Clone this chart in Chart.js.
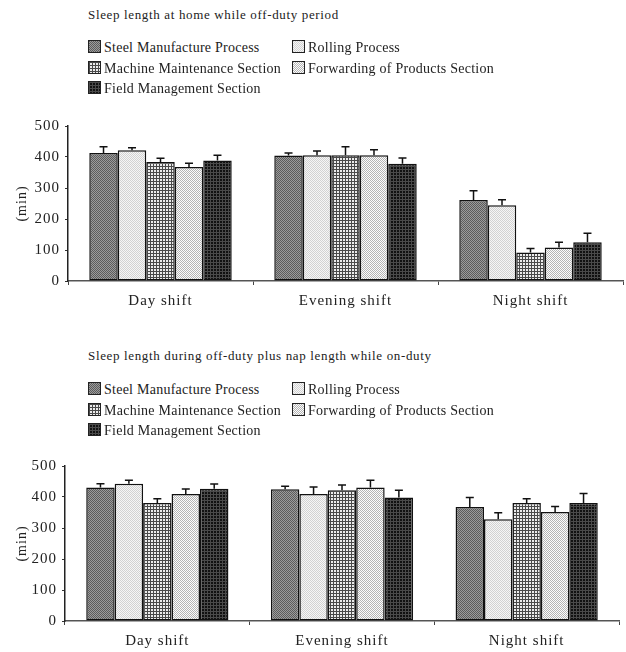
<!DOCTYPE html>
<html>
<head>
<meta charset="utf-8">
<script src="https://cdn.jsdelivr.net/npm/chart.js@4"></script>
<style>
  body { margin: 0; background: #fff; width: 626px; height: 652px; position: relative; overflow: hidden;
         font-family: "Liberation Serif", "DejaVu Serif", serif; color: #222; }
  .title { position: absolute; left: 88px; font-size: 13px; letter-spacing: 0.65px; }
  .leg { position: absolute; font-size: 14px; white-space: nowrap; line-height: 16px; letter-spacing: 0.25px; }
  .leg canvas { vertical-align: -1px; margin-right: 3px; border: 1px solid #222; box-sizing: border-box; }
  .chartbox { position: absolute; left: 0; width: 626px; height: 200px; }
</style>
</head>
<body>
<div class="title" style="top:7px">Sleep length at home while off-duty period</div>
<div id="legend1"></div>
<div class="chartbox" style="top:112px"><canvas id="chart1"></canvas></div>

<div class="title" style="top:348px">Sleep length during off-duty plus nap length while on-duty</div>
<div id="legend2"></div>
<div class="chartbox" style="top:452px"><canvas id="chart2"></canvas></div>

<script>
const categories = ['Day shift', 'Evening shift', 'Night shift'];
const seriesNames = ['Steel Manufacture Process', 'Rolling Process', 'Machine Maintenance Section',
                     'Forwarding of Products Section', 'Field Management Section'];
const yTicks = [0, 100, 200, 300, 400, 500];

// chart 1 : sleep at home while off-duty (means, error = upper SD/SE bar)
const homeSteel = [413, 405, 261];
const homeRolling = [422, 406, 244];
const homeMachine = [384, 406, 92];
const homeForwarding = [368, 406, 108];
const homeField = [389, 378, 125];
const homeSteelErr = [20, 8, 30];
const homeRollingErr = [8, 13, 18];
const homeMachineErr = [12, 27, 13];
const homeForwardingErr = [12, 17, 17];
const homeFieldErr = [17, 19, 29];

// chart 2 : off-duty sleep plus nap on duty
const napSteel = [431, 425, 368];
const napRolling = [443, 410, 328];
const napMachine = [381, 422, 381];
const napForwarding = [410, 431, 352];
const napField = [427, 398, 381];
const napSteelErr = [12, 10, 30];
const napRollingErr = [11, 22, 21];
const napMachineErr = [13, 17, 13];
const napForwardingErr = [16, 23, 17];
const napFieldErr = [15, 24, 30];

// little pixel textures like the printed hatch fills
function makePattern(size, draw) {
    const c = document.createElement('canvas');
    c.width = size; c.height = size;
    const g = c.getContext('2d');
    draw(g);
    return c;
}
const tiles = [
    makePattern(2, g => { g.fillStyle = '#9c9c9c'; g.fillRect(0, 0, 2, 2); g.fillStyle = '#5c5c5c';
                          g.fillRect(0, 0, 1, 1); g.fillRect(1, 1, 1, 1); }),
    makePattern(2, g => { g.fillStyle = '#f6f6f6'; g.fillRect(0, 0, 2, 2); g.fillStyle = '#d2d2d2';
                          g.fillRect(0, 0, 1, 1); g.fillRect(1, 1, 1, 1); }),
    makePattern(3, g => { g.fillStyle = '#ececec'; g.fillRect(0, 0, 3, 3); g.fillStyle = '#4a4a4a';
                          g.fillRect(0, 0, 3, 1); g.fillRect(0, 0, 1, 3); }),
    makePattern(2, g => { g.fillStyle = '#fcfcfc'; g.fillRect(0, 0, 2, 2); g.fillStyle = '#b4b4b4';
                          g.fillRect(0, 0, 1, 1); g.fillRect(1, 1, 1, 1); }),
    makePattern(3, g => { g.fillStyle = '#111'; g.fillRect(0, 0, 3, 3); g.fillStyle = '#4a4a4a';
                          g.fillRect(0, 0, 3, 1); g.fillRect(0, 0, 1, 3); })
];
const patternCtx = document.createElement('canvas').getContext('2d');
const fills = tiles.map(t => patternCtx.createPattern(t, 'repeat'));

function buildLegend(id, top) {
    const box = document.getElementById(id);
    const spots = [[88, 0], [292, 0], [88, 1], [292, 1], [88, 2]];
    seriesNames.forEach((name, i) => {
        const d = document.createElement('div');
        d.className = 'leg';
        d.style.left = spots[i][0] + 'px';
        d.style.top = (top + spots[i][1] * 20.5) + 'px';
        const sw = document.createElement('canvas');
        sw.width = 11; sw.height = 11;
        const g = sw.getContext('2d');
        g.fillStyle = g.createPattern(tiles[i], 'repeat');
        g.fillRect(0, 0, 11, 11);
        d.appendChild(sw);
        d.appendChild(document.createTextNode(name));
        box.appendChild(d);
    });
}
buildLegend('legend1', 40);
buildLegend('legend2', 382);

const spacedText = {
    id: 'spacedText',
    beforeDraw(chart) { chart.ctx.letterSpacing = '1px'; }
};

const errorBars = {
    id: 'errorBars',
    afterDatasetsDraw(chart) {
        const ctx = chart.ctx;
        const yScale = chart.scales.y;
        ctx.save();
        ctx.strokeStyle = '#111';
        ctx.lineWidth = 1.5;
        chart.data.datasets.forEach((ds, di) => {
            const meta = chart.getDatasetMeta(di);
            meta.data.forEach((bar, i) => {
                const top = yScale.getPixelForValue(ds.data[i] + ds.errors[i]);
                ctx.beginPath();
                ctx.moveTo(bar.x, bar.y);
                ctx.lineTo(bar.x, top);
                ctx.moveTo(bar.x - 4, top);
                ctx.lineTo(bar.x + 4, top);
                ctx.stroke();
            });
        });
        ctx.restore();
    }
};

function drawChart(id, values, errors, axisLeft, rightPad) {
    new Chart(document.getElementById(id), {
        type: 'bar',
        data: {
            labels: categories,
            datasets: seriesNames.map((name, i) => ({
                label: name,
                data: values[i],
                errors: errors[i],
                backgroundColor: fills[i],
                borderColor: '#111',
                borderWidth: 1.5,
                borderSkipped: false,
                categoryPercentage: 0.77,
                barPercentage: 1.0
            }))
        },
        options: {
            responsive: true,
            maintainAspectRatio: false,
            animation: false,
            layout: { padding: { top: 12, right: rightPad, left: 14, bottom: 0 } },
            plugins: { legend: { display: false }, tooltip: { enabled: false } },
            scales: {
                x: {
                    afterFit: s => { s.height = 31; },
                    grid: { display: true, drawOnChartArea: false, offset: true, tickLength: 4, color: '#444', lineWidth: 1 },
                    border: { color: '#555', width: 1.5 },
                    ticks: { color: '#222', padding: 7, font: { family: 'Liberation Serif', size: 15 } }
                },
                y: {
                    min: 0,
                    max: 500,
                    afterFit: s => { s.width = axisLeft - 14; },
                    afterBuildTicks: s => { s.ticks = yTicks.map(v => ({ value: v })); },
                    grid: { display: true, drawOnChartArea: false, tickLength: 3, color: '#333' },
                    border: { color: '#222', width: 1.5 },
                    ticks: { color: '#222', padding: 5, font: { family: 'Liberation Serif', size: 15 } },
                    title: { display: true, text: '(min)', color: '#222', padding: { top: 0, bottom: 0 },
                             font: { family: 'Liberation Serif', size: 14 } }
                }
            }
        },
        plugins: [spacedText, errorBars]
    });
}

drawChart('chart1',
    [homeSteel, homeRolling, homeMachine, homeForwarding, homeField],
    [homeSteelErr, homeRollingErr, homeMachineErr, homeForwardingErr, homeFieldErr],
    68, 3);
drawChart('chart2',
    [napSteel, napRolling, napMachine, napForwarding, napField],
    [napSteelErr, napRollingErr, napMachineErr, napForwardingErr, napFieldErr],
    65, 7);
</script>
</body>
</html>
